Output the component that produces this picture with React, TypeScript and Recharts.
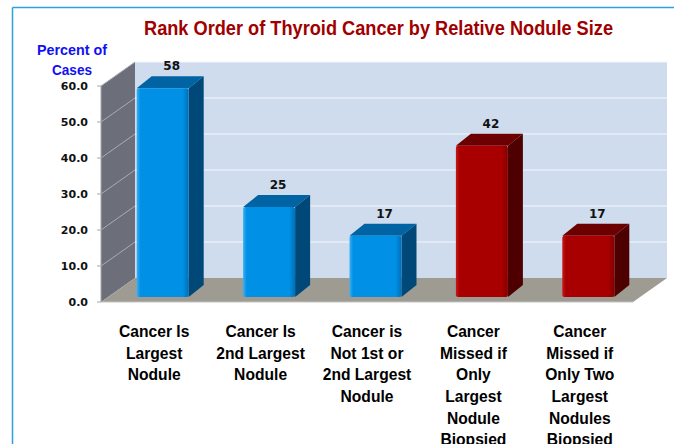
import { BarChart, Bar, XAxis, YAxis, CartesianGrid } from 'recharts';

const categories = [
  'Cancer Is\nLargest\nNodule',
  'Cancer Is\n2nd Largest\nNodule',
  'Cancer is\nNot 1st or\n2nd Largest\nNodule',
  'Cancer\nMissed if\nOnly\nLargest\nNodule\nBiopsied',
  'Cancer\nMissed if\nOnly Two\nLargest\nNodules\nBiopsied',
];
const percentOfCases = [58, 25, 17, 42, 17];
const barTone = ['blue', 'blue', 'blue', 'red', 'red'];
const yTicks = [0, 10, 20, 30, 40, 50, 60];

const data = categories.map((name, i) => ({ name, value: percentOfCases[i], tone: barTone[i] }));

const tones: Record<string, { light: string; main: string; dark: string; top: string; side: string }> = {
  blue: { light: '#3AB0F4', main: '#0091E6', dark: '#0070B8', top: '#0063A3', side: '#004877' },
  red: { light: '#C81818', main: '#A80000', dark: '#850000', top: '#6C0000', side: '#4E0000' },
};

// 3d offsets
const WALL_DX = 34;
const WALL_DY = 24;
const SHIFT_X = 8.7;
const SHIFT_Y = 5;
const BAR_DX = 15;
const BAR_DY = 12;

function GridLine(props: any) {
  const { x1, x2, y1, index, horizontalPoints } = props;
  const pts: number[] = horizontalPoints || [];
  const top = Math.min(...pts);
  const bottom = Math.max(...pts);
  const L = x1;
  const R = x2;
  return (
    <g>
      {index === 0 && (
        <g>
          <polygon
            points={`${L},${bottom} ${L},${top} ${L + WALL_DX},${top - WALL_DY} ${L + WALL_DX},${bottom - WALL_DY}`}
            fill="#6C6F79"
          />
          <rect x={L + WALL_DX} y={top - WALL_DY} width={R - L} height={bottom - top} fill="#CEDCEE" />
          <polygon
            points={`${L},${bottom} ${L + WALL_DX},${bottom - WALL_DY} ${R + WALL_DX},${bottom - WALL_DY} ${R},${bottom}`}
            fill="#9E9B92"
          />
        </g>
      )}
      {y1 < bottom - 0.5 && (
        <g>
          <line x1={L} y1={y1} x2={L + WALL_DX} y2={y1 - WALL_DY} stroke="#A9ACB4" strokeWidth={1} />
          <line x1={L + WALL_DX} y1={y1 - WALL_DY} x2={R + WALL_DX} y2={y1 - WALL_DY} stroke="#F3F6FA" strokeWidth={1} />
        </g>
      )}
    </g>
  );
}

function Bar3D(props: any) {
  const { x, y, width, height, index } = props;
  const toneKey = props.payload?.tone ?? barTone[index];
  const t = tones[toneKey];
  const value = props.payload?.value ?? props.value;
  const fx = x + SHIFT_X;
  const fy = y - SHIFT_Y;
  const r = fx + width;
  const gid = `front-${index}`;
  return (
    <g>
      <defs>
        <linearGradient id={gid} x1="0" y1="0" x2="1" y2="0">
          <stop offset="0" stopColor={t.light} />
          <stop offset="0.07" stopColor={t.main} />
          <stop offset="0.88" stopColor={t.main} />
          <stop offset="1" stopColor={t.dark} />
        </linearGradient>
      </defs>
      <polygon
        points={`${fx},${fy} ${fx + BAR_DX},${fy - BAR_DY} ${r + BAR_DX},${fy - BAR_DY} ${r},${fy}`}
        fill={t.top}
      />
      <polygon
        points={`${r},${fy} ${r + BAR_DX},${fy - BAR_DY} ${r + BAR_DX},${fy + height - BAR_DY} ${r},${fy + height}`}
        fill={t.side}
      />
      <rect x={fx} y={fy} width={width} height={height} rx={2} fill={`url(#${gid})`} />
      <text
        x={fx + width / 2 + 9}
        y={fy - BAR_DY - 6}
        textAnchor="middle"
        fontFamily="'DejaVu Sans', sans-serif"
        fontWeight="bold"
        fontSize={12}
        fill="#111"
      >
        {value}
      </text>
    </g>
  );
}

function CategoryTick(props: any) {
  const { x, y, payload } = props;
  const lines = String(payload.value).split('\n');
  return (
    <g transform={`translate(${x},${y}) scale(0.92,1)`}>
      <text
        textAnchor="middle"
        fontFamily="'Liberation Sans', Arial, sans-serif"
        fontWeight="bold"
        fontSize={17}
        fill="#000"
      >
        {lines.map((l, i) => (
          <tspan key={i} x={0} y={35 + i * 21.7}>
            {l}
          </tspan>
        ))}
      </text>
    </g>
  );
}

export default function App() {
  return (
    <div style={{ position: 'absolute', left: 0, top: 0, width: 674, height: 444, background: '#fff' }}>
      <BarChart width={674} height={444} data={data} margin={{ top: 86, right: 41, bottom: 0, left: 0 }}>
        <CartesianGrid vertical={false} horizontal={GridLine} />
        <XAxis
          dataKey="name"
          interval={0}
          height={142}
          tickLine={false}
          tickSize={0}
          tickMargin={0}
          axisLine={{ stroke: '#C4C4C4' }}
          tick={CategoryTick}
        />
        <YAxis
          width={101}
          domain={[0, 60]}
          ticks={yTicks}
          tickFormatter={(v: number) => v.toFixed(1)}
          tickSize={4}
          tickMargin={9}
          axisLine={{ stroke: '#A6A6A6' }}
          tickLine={{ stroke: '#A6A6A6' }}
          tick={{ fontFamily: "'DejaVu Sans', sans-serif", fontSize: 11, fontWeight: 'bold', fill: '#111' }}
        />
        <Bar dataKey="value" barSize={52} shape={Bar3D} isAnimationActive={false} />
      </BarChart>
      <svg width={674} height={444} style={{ position: 'absolute', left: 0, top: 0, pointerEvents: 'none' }}>
        <line x1={12.5} y1={7.5} x2={674} y2={7.5} stroke="#29A3DC" strokeWidth={1.5} />
        <line x1={12.5} y1={7.5} x2={12.5} y2={444} stroke="#29A3DC" strokeWidth={1.5} />
        <text
          x={378.5}
          y={35}
          textAnchor="middle"
          textLength={469}
          lengthAdjust="spacingAndGlyphs"
          fontFamily="'Liberation Sans', Arial, sans-serif"
          fontWeight="bold"
          fontSize={20}
          fill="#A00000"
        >
          Rank Order of Thyroid Cancer by Relative Nodule Size
        </text>
        <text
          x={72}
          y={55}
          textAnchor="middle"
          textLength={70}
          lengthAdjust="spacingAndGlyphs"
          fontFamily="'Liberation Sans', Arial, sans-serif"
          fontWeight="bold"
          fontSize={15}
          fill="#1010F2"
        >
          Percent of
        </text>
        <text
          x={72}
          y={75}
          textAnchor="middle"
          textLength={40}
          lengthAdjust="spacingAndGlyphs"
          fontFamily="'Liberation Sans', Arial, sans-serif"
          fontWeight="bold"
          fontSize={15}
          fill="#1010F2"
        >
          Cases
        </text>
      </svg>
    </div>
  );
}
